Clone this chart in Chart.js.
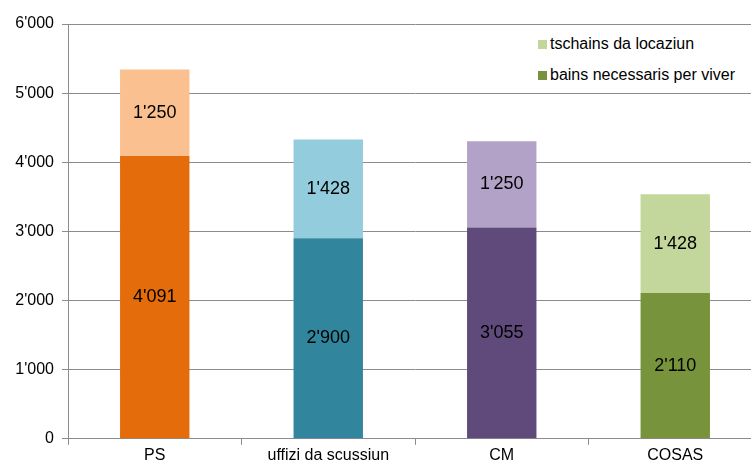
<!DOCTYPE html>
<html>
<head>
<meta charset="utf-8">
<script src="https://cdn.jsdelivr.net/npm/chart.js@4/dist/chart.umd.min.js"></script>
<style>
  html, body { margin: 0; padding: 0; background: #fff; overflow: hidden; }
  #wrap { position: relative; width: 762px; height: 466px; }
  #legend { position: absolute; left: 538px; top: 34px; background: #fff; font-family: "Liberation Sans", Arial, sans-serif; font-size: 16px; color: #000; padding-right: 20px; }
  #legend div { height: 20px; line-height: 20px; margin-bottom: 11px; white-space: nowrap; }
  #legend div:last-child { margin-bottom: 0; }
  #legend span.sw { display: inline-block; width: 9px; height: 9px; margin-right: 3px; vertical-align: 0px; }
</style>
</head>
<body>
<div id="wrap">
  <canvas id="myChart" width="762" height="466"></canvas>
  <div id="legend"></div>
</div>
<script>
const categories = ["PS", "uffizi da scussiun", "CM", "COSAS"];
const bainsValues = [4091, 2900, 3055, 2110];
const tschainsValues = [1250, 1428, 1250, 1428];
const yTicks = [0, 1000, 2000, 3000, 4000, 5000, 6000];
const seriesNames = ["bains necessaris per viver", "tschains da locaziun"];
const darkColors = ["#E46C0A", "#31859C", "#5F4A7B", "#77933C"];
const lightColors = ["#FAC090", "#93CDDD", "#B3A2C7", "#C3D69B"];

const fmt = (v) => String(v).replace(/\B(?=(\d{3})+(?!\d))/g, "'");
const FONT = "'Liberation Sans', Arial, sans-serif";

// value labels in the middle of every segment
const barLabels = {
    id: "barLabels",
    afterDatasetsDraw(chart) {
        const ctx = chart.ctx;
        ctx.save();
        ctx.font = "18px " + FONT;
        ctx.fillStyle = "#000";
        ctx.textAlign = "center";
        ctx.textBaseline = "middle";
        chart.data.datasets.forEach((ds, i) => {
            chart.getDatasetMeta(i).data.forEach((bar, j) => {
                const p = bar.getProps(["x", "y", "base"], true);
                ctx.fillText(fmt(ds.data[j]), p.x, (p.y + p.base) / 2);
            });
        });
        ctx.restore();
    },
};

const ctx = document.getElementById("myChart");
new Chart(ctx, {
    type: "bar",
    data: {
        labels: categories,
        datasets: [
            {
                label: seriesNames[0],
                data: bainsValues,
                backgroundColor: darkColors,
                barPercentage: 0.4,
                categoryPercentage: 1,
            },
            {
                label: seriesNames[1],
                data: tschainsValues,
                backgroundColor: lightColors,
                barPercentage: 0.4,
                categoryPercentage: 1,
            },
        ],
    },
    options: {
        responsive: false,
        animation: false,
        layout: { padding: { top: 24, right: 0, bottom: 0, left: 0 } },
        plugins: {
            legend: { display: false },
            tooltip: { enabled: false },
        },
        scales: {
            x: {
                stacked: true,
                grid: { drawOnChartArea: false, color: "#8c8c8c", tickLength: 6, offset: true },
                border: { color: "#8c8c8c" },
                ticks: { color: "#000", font: { family: FONT, size: 16 }, padding: 1 },
            },
            y: {
                stacked: true,
                min: 0,
                max: 6000,
                afterBuildTicks: (scale) => {
                    scale.ticks = yTicks.map((v) => ({ value: v }));
                },
                afterFit: (scale) => {
                    scale.width = 68;
                },
                grid: { color: "#8c8c8c", tickLength: 6 },
                border: { color: "#8c8c8c" },
                ticks: {
                    color: "#000",
                    font: { family: FONT, size: 16 },
                    padding: 8,
                    callback: (v) => fmt(v),
                },
            },
        },
    },
    plugins: [barLabels],
});

const legend = document.getElementById("legend");
[1, 0].forEach((i) => {
    const row = document.createElement("div");
    const sw = document.createElement("span");
    sw.className = "sw";
    sw.style.background = i === 1 ? lightColors[3] : darkColors[3];
    row.appendChild(sw);
    row.appendChild(document.createTextNode(seriesNames[i]));
    legend.appendChild(row);
});
</script>
</body>
</html>
